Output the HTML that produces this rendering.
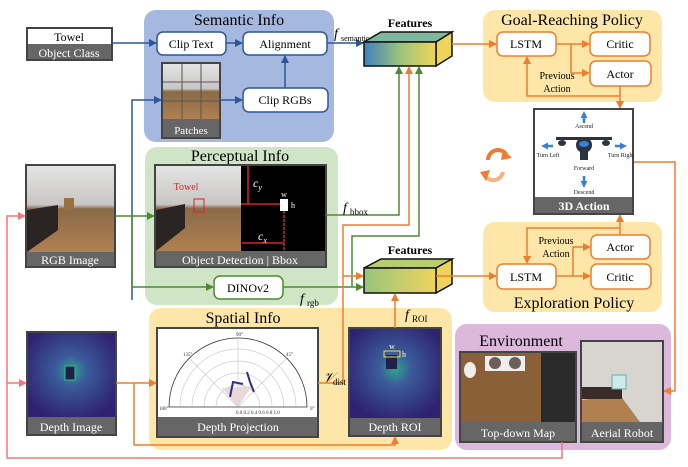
<!DOCTYPE html>
<html><head><meta charset="utf-8"><style>
body{margin:0;background:#fff;}
svg{display:block;font-family:"Liberation Serif",serif;}
</style></head><body>
<svg width="688" height="467" viewBox="0 0 688 467" xmlns="http://www.w3.org/2000/svg">
<defs>
<marker id="mb" markerWidth="8" markerHeight="8" refX="7" refY="4" orient="auto" markerUnits="userSpaceOnUse"><path d="M0,0 L8,4 L0,8 z" fill="#2f5597"/></marker>
<marker id="mg" markerWidth="8" markerHeight="8" refX="7" refY="4" orient="auto" markerUnits="userSpaceOnUse"><path d="M0,0 L8,4 L0,8 z" fill="#4e8a34"/></marker>
<marker id="mo" markerWidth="8" markerHeight="8" refX="7" refY="4" orient="auto" markerUnits="userSpaceOnUse"><path d="M0,0 L8,4 L0,8 z" fill="#ed7d31"/></marker>
<marker id="mp" markerWidth="8" markerHeight="8" refX="7" refY="4" orient="auto" markerUnits="userSpaceOnUse"><path d="M0,0 L8,4 L0,8 z" fill="#f07878"/></marker>
<marker id="mbl" markerWidth="7" markerHeight="7" refX="3" refY="3.5" orient="auto" markerUnits="userSpaceOnUse"><path d="M0,0 L7,3.5 L0,7 z" fill="#3a7fd5"/></marker>
<linearGradient id="f1" x1="0" x2="1"><stop offset="0" stop-color="#3f7fc0"/><stop offset="0.5" stop-color="#9cc47c"/><stop offset="1" stop-color="#f0d45a"/></linearGradient>
<linearGradient id="f2" x1="0" x2="1"><stop offset="0" stop-color="#97c47c"/><stop offset="1" stop-color="#efd45c"/></linearGradient>
<linearGradient id="corr" x1="0" y1="0" x2="0" y2="1"><stop offset="0" stop-color="#e4e4e4"/><stop offset="0.45" stop-color="#c8c6c4"/><stop offset="0.5" stop-color="#8a6a48"/><stop offset="1" stop-color="#b08050"/></linearGradient>
<radialGradient id="dep" cx="0.5" cy="0.45" r="0.6"><stop offset="0" stop-color="#2aa88a"/><stop offset="0.3" stop-color="#3b5b9a"/><stop offset="1" stop-color="#2f2270"/></radialGradient>
</defs>

<rect x="144" y="10" width="190" height="132" rx="12" fill="#a4b8e0"/>
<rect x="145" y="147" width="193" height="158" rx="12" fill="#d0e5c5"/>
<rect x="149" y="308" width="303" height="142" rx="12" fill="#fde6a8"/>
<rect x="483" y="10" width="179" height="92" rx="12" fill="#fde6a8"/>
<rect x="483" y="222" width="179" height="90" rx="12" fill="#fde6a8"/>
<rect x="455" y="324" width="216" height="126" rx="12" fill="#dbb8dc"/>

<text x="239" y="25" font-size="16" text-anchor="middle">Semantic Info</text>
<text x="240" y="161" font-size="16" text-anchor="middle">Perceptual Info</text>
<text x="243" y="323" font-size="16" text-anchor="middle">Spatial Info</text>
<text x="572" y="25" font-size="16" text-anchor="middle">Goal-Reaching Policy</text>
<text x="574" y="308" font-size="16" text-anchor="middle">Exploration Policy</text>
<text x="521" y="346" font-size="16" text-anchor="middle">Environment</text>

<rect x="27" y="28" width="85" height="32" fill="#666" stroke="#444" stroke-width="2"/>
<rect x="28" y="29" width="83" height="15" fill="#fff"/>
<text x="69" y="41" font-size="12" text-anchor="middle">Towel</text>
<text x="69" y="57" font-size="12" text-anchor="middle" fill="#fff">Object Class</text>

<g fill="#fff" stroke="#2f5597" stroke-width="1.5">
<rect x="157" y="32" width="69" height="23" rx="6"/>
<rect x="243" y="32" width="84" height="23" rx="6"/>
<rect x="243" y="88" width="85" height="24" rx="6"/>
</g>
<g font-size="12" text-anchor="middle">
<text x="191" y="48">Clip Text</text>
<text x="285" y="48">Alignment</text>
<text x="285" y="104">Clip RGBs</text>
</g>
<rect x="162" y="63" width="58" height="75" fill="#666" stroke="#444" stroke-width="2"/>
<rect x="163" y="64" width="56" height="55" fill="url(#corr)"/>
<g stroke="#555" stroke-width="1"><line x1="182" y1="64" x2="182" y2="119"/><line x1="201" y1="64" x2="201" y2="119"/><line x1="163" y1="82" x2="219" y2="82"/><line x1="163" y1="101" x2="219" y2="101"/></g>
<text x="191" y="134" font-size="11" fill="#fff" text-anchor="middle">Patches</text>

<g stroke="#2f5597" stroke-width="1.5" fill="none">
<line x1="112" y1="43" x2="156" y2="43" marker-end="url(#mb)"/>
<line x1="226" y1="43" x2="242" y2="43" marker-end="url(#mb)"/>
<line x1="285" y1="88" x2="285" y2="56" marker-end="url(#mb)"/>
<line x1="220" y1="100" x2="242" y2="100" marker-end="url(#mb)"/>
<polyline points="132,300 132,100 161,100" marker-end="url(#mb)"/>
<line x1="327" y1="43" x2="363" y2="43" marker-end="url(#mb)"/>
</g>
<text x="334" y="38" font-size="14" font-style="italic">f</text><text x="341" y="41" font-size="8">semantic</text>

<text x="410" y="27" font-size="12" text-anchor="middle" font-weight="bold">Features</text>
<polygon points="364,42 381,32 452,32 436,42" fill="#7fb6a0" stroke="#111" stroke-width="1.5"/>
<polygon points="436,42 452,32 452,56 436,66" fill="#efd45c" stroke="#111" stroke-width="1.5"/>
<rect x="364" y="42" width="72" height="24" fill="url(#f1)" stroke="#111" stroke-width="1.5"/>

<text x="410" y="254" font-size="12" text-anchor="middle" font-weight="bold">Features</text>
<polygon points="364,268 381,259 452,259 436,268" fill="#b8cc70" stroke="#111" stroke-width="1.5"/>
<polygon points="436,268 452,259 452,284 436,293" fill="#efd45c" stroke="#111" stroke-width="1.5"/>
<rect x="364" y="268" width="72" height="25" fill="url(#f2)" stroke="#111" stroke-width="1.5"/>

<rect x="26" y="165" width="89" height="102" fill="#666" stroke="#444" stroke-width="2"/>
<rect x="27" y="166" width="87" height="86" fill="url(#corr)"/>
<polygon points="27,210 58,205 58,230 27,252" fill="#2a2422"/>
<rect x="64" y="198" width="10" height="12" fill="#9a7040"/>
<text x="70" y="264" font-size="12" fill="#fff" text-anchor="middle">RGB Image</text>

<rect x="155" y="165" width="171" height="102" fill="#666" stroke="#444" stroke-width="2"/>
<rect x="156" y="166" width="85" height="85" fill="url(#corr)"/>
<polygon points="156,210 185,204 185,228 156,251" fill="#2a2422"/>
<rect x="241" y="166" width="84" height="85" fill="#000"/>
<text x="186" y="190" font-size="10" fill="#e02020" text-anchor="middle">Towel</text>
<rect x="194" y="199" width="10" height="13" fill="none" stroke="#e02020"/>
<g stroke="#e02020" stroke-width="1.5"><line x1="248" y1="166" x2="248" y2="204"/><line x1="241" y1="204" x2="280" y2="204"/><line x1="284" y1="211" x2="284" y2="251" stroke-dasharray="3,1"/><line x1="242" y1="243" x2="284" y2="243"/></g>
<rect x="280" y="199" width="8" height="12" fill="#fff"/>
<text x="284" y="197" font-size="8" fill="#fff" text-anchor="middle">w</text>
<text x="291" y="208" font-size="8" fill="#fff">h</text>
<text x="253" y="187" font-size="12" font-style="italic" fill="#fff">c<tspan font-size="8" dy="3">y</tspan></text>
<text x="258" y="240" font-size="12" font-style="italic" fill="#fff">c<tspan font-size="8" dy="3">x</tspan></text>
<text x="240" y="264" font-size="12" fill="#fff" text-anchor="middle">Object Detection | Bbox</text>

<rect x="214" y="276" width="69" height="23" rx="6" fill="#fff" stroke="#4e8a34" stroke-width="1.5"/>
<text x="248" y="292" font-size="12" text-anchor="middle">DINOv2</text>

<g stroke="#4e8a34" stroke-width="1.5" fill="none">
<line x1="115" y1="216" x2="154" y2="216" marker-end="url(#mg)"/>
<polyline points="132,216 132,287 213,287" marker-end="url(#mg)"/>
<polyline points="326,215 399,215 399,67" marker-end="url(#mg)"/>
<polyline points="283,287 363,287" marker-end="url(#mg)"/>
<polyline points="352,287 352,236 419,236 419,67" marker-end="url(#mg)"/>
</g>
<text x="343" y="212" font-size="14" font-style="italic">f</text><text x="350" y="215" font-size="9">bbox</text>
<text x="300" y="303" font-size="14" font-style="italic">f</text><text x="307" y="306" font-size="9">rgb</text>

<rect x="27" y="332" width="89" height="103" fill="#666" stroke="#444" stroke-width="2"/>
<rect x="28" y="333" width="87" height="84" fill="url(#dep)"/>
<rect x="65" y="366" width="10" height="14" fill="#20204a" stroke="#30c090" stroke-width="1"/>
<text x="71" y="431" font-size="12" fill="#fff" text-anchor="middle">Depth Image</text>

<rect x="157" y="328" width="161" height="109" fill="#666" stroke="#444" stroke-width="2"/>
<rect x="158" y="329" width="159" height="88" fill="#fff"/>
<g fill="none" stroke="#ccc" stroke-width="0.7">
<path d="M180,407 A58,58 0 0 1 296,407"/><path d="M192,407 A46,46 0 0 1 284,407"/><path d="M204,407 A34,34 0 0 1 272,407"/><path d="M216,407 A22,22 0 0 1 260,407"/>
<line x1="238" y1="407" x2="238" y2="338"/><line x1="238" y1="407" x2="189" y2="358"/><line x1="238" y1="407" x2="287" y2="358"/>
</g>
<path d="M169,407 A69,69 0 0 1 307,407 Z" fill="none" stroke="#333" stroke-width="0.8"/>
<polygon points="238,407 222,388 252,386" fill="#e8d8d8"/>
<polyline points="230,397 233,382 243,384" fill="none" stroke="#3a2a80" stroke-width="2"/>
<polyline points="247,372 250,382 254,392" fill="none" stroke="#3a2a80" stroke-width="2"/>
<g font-size="5" fill="#333"><text x="236" y="336">90°</text><text x="183" y="356">135°</text><text x="286" y="356">45°</text><text x="159" y="410">180°</text><text x="310" y="410">0°</text><text x="236" y="414">0.0 0.2 0.4 0.6 0.8 1.0</text></g>
<text x="238" y="431" font-size="12" fill="#fff" text-anchor="middle">Depth Projection</text>

<rect x="349" y="328" width="92" height="108" fill="#666" stroke="#444" stroke-width="2"/>
<rect x="350" y="329" width="90" height="89" fill="url(#dep)"/>
<rect x="386" y="355" width="11" height="14" fill="#20204a"/>
<rect x="384" y="351" width="16" height="6" fill="none" stroke="#e8e040"/>
<text x="392" y="349" font-size="8" fill="#fff" text-anchor="middle">w</text>
<text x="402" y="357" font-size="8" fill="#fff">h</text>
<text x="395" y="431" font-size="12" fill="#fff" text-anchor="middle">Depth ROI</text>

<g stroke="#ed7d31" stroke-width="1.5" fill="none">
<line x1="116" y1="383" x2="156" y2="383" marker-end="url(#mo)"/>
<polyline points="134,383 134,445 395,445 395,437" marker-end="url(#mo)"/>
<polyline points="318,383 343,383 343,225 409,225 409,67" marker-end="url(#mo)"/>
<line x1="343" y1="276" x2="363" y2="276" marker-end="url(#mo)"/>
<line x1="395" y1="328" x2="395" y2="294" marker-end="url(#mo)"/>
<line x1="452" y1="44" x2="496" y2="44" marker-end="url(#mo)"/>
<line x1="556" y1="44" x2="589" y2="44" marker-end="url(#mo)"/>
<polyline points="571,44 571,73 589,73" marker-end="url(#mo)"/>
<line x1="620" y1="86" x2="620" y2="108" marker-end="url(#mo)"/>
<polyline points="620,96 527,96 527,57" marker-end="url(#mo)"/>
<line x1="436" y1="276" x2="496" y2="276" marker-end="url(#mo)"/>
<line x1="556" y1="276" x2="590" y2="276" marker-end="url(#mo)"/>
<polyline points="573,276 573,247 590,247" marker-end="url(#mo)"/>
<line x1="620" y1="235" x2="620" y2="215" marker-end="url(#mo)"/>
<polyline points="620,228 527,228 527,263" marker-end="url(#mo)"/>
<polyline points="633,162 675,162 675,391 664,391" marker-end="url(#mo)"/>
</g>
<text x="323" y="382" font-size="14" font-style="italic">𝒱</text><text x="333" y="385" font-size="9">dist</text>
<text x="405" y="319" font-size="14" font-style="italic">f</text><text x="412" y="322" font-size="9">ROI</text>

<g fill="#fff" stroke="#ed7d31" stroke-width="1.5">
<rect x="497" y="32" width="59" height="24" rx="6"/>
<rect x="590" y="32" width="60" height="24" rx="6"/>
<rect x="590" y="61" width="61" height="25" rx="6"/>
<rect x="497" y="264" width="59" height="25" rx="6"/>
<rect x="591" y="235" width="59" height="24" rx="6"/>
<rect x="591" y="264" width="60" height="25" rx="6"/>
</g>
<g font-size="12" text-anchor="middle">
<text x="526" y="48">LSTM</text><text x="620" y="48">Critic</text><text x="620" y="78">Actor</text>
<text x="526" y="281">LSTM</text><text x="620" y="251">Actor</text><text x="620" y="281">Critic</text>
</g>
<g font-size="10" text-anchor="middle">
<text x="557" y="79">Previous</text><text x="557" y="92">Action</text>
<text x="556" y="244">Previous</text><text x="556" y="257">Action</text>
</g>

<rect x="534" y="109" width="99" height="105" fill="#666" stroke="#444" stroke-width="2"/>
<rect x="535" y="110" width="97" height="87" fill="#fff"/>
<text x="584" y="210" font-size="12" fill="#fff" text-anchor="middle" font-weight="bold">3D Action</text>
<g stroke="#3a7fd5" stroke-width="2.5" fill="none">
<line x1="584" y1="123" x2="584" y2="115" marker-end="url(#mbl)"/>
<line x1="584" y1="176" x2="584" y2="184" marker-end="url(#mbl)"/>
<line x1="553" y1="146" x2="545" y2="146" marker-end="url(#mbl)"/>
<line x1="615" y1="146" x2="623" y2="146" marker-end="url(#mbl)"/>
</g>
<g font-size="6" text-anchor="middle" fill="#222">
<text x="584" y="128">Ascend</text><text x="548" y="157">Turn Left</text><text x="621" y="157">Turn Right</text><text x="584" y="170">Forward</text><text x="584" y="194">Descend</text>
</g>
<g fill="#2a3340"><rect x="556" y="137" width="56" height="3"/><ellipse cx="562" cy="143" rx="4" ry="3"/><ellipse cx="606" cy="143" rx="4" ry="3"/><circle cx="584" cy="145" r="8"/><rect x="580" y="152" width="8" height="8"/></g>
<ellipse cx="584" cy="144" rx="5" ry="3" fill="#3a7fd5"/>

<path d="M488,160 A10,10 0 0 1 506,154" fill="none" stroke="#ed7d31" stroke-width="4"/>
<path d="M503,172 A10,10 0 0 1 485,176" fill="none" stroke="#f4b183" stroke-width="4"/>
<polygon points="503,149 512,158 501,160" fill="#ed7d31"/>
<polygon points="480,172 486,181 490,170" fill="#ed7d31"/>

<rect x="460" y="352" width="116" height="90" fill="#666" stroke="#444" stroke-width="2"/>
<rect x="461" y="353" width="114" height="69" fill="#8a6038"/>
<rect x="541" y="353" width="34" height="69" fill="#2a2a2a"/>
<rect x="485" y="356" width="40" height="15" fill="#eee"/>
<circle cx="495" cy="363" r="6" fill="#6a6058"/><circle cx="515" cy="363" r="6" fill="#6a6058"/>
<ellipse cx="470" cy="370" rx="6" ry="8" fill="#eee"/>
<text x="518" y="437" font-size="12" fill="#fff" text-anchor="middle">Top-down Map</text>
<rect x="581" y="341" width="82" height="101" fill="#666" stroke="#444" stroke-width="2"/>
<rect x="582" y="342" width="80" height="80" fill="#d8d4d0"/>
<polygon points="582,400 620,395 640,422 582,422" fill="#b08050"/>
<rect x="582" y="387" width="40" height="12" fill="#3a2a28"/>
<rect x="612" y="375" width="14" height="14" fill="#cfeaea" stroke="#6aa" stroke-width="1"/>
<text x="622" y="437" font-size="12" fill="#fff" text-anchor="middle">Aerial Robot</text>

<g stroke="#f07878" stroke-width="1.5" fill="none">
<polyline points="562,442 562,458 7,458 7,216 25,216" marker-end="url(#mp)"/>
<line x1="7" y1="383" x2="26" y2="383" marker-end="url(#mp)"/>
</g>
</svg>
</body></html>
